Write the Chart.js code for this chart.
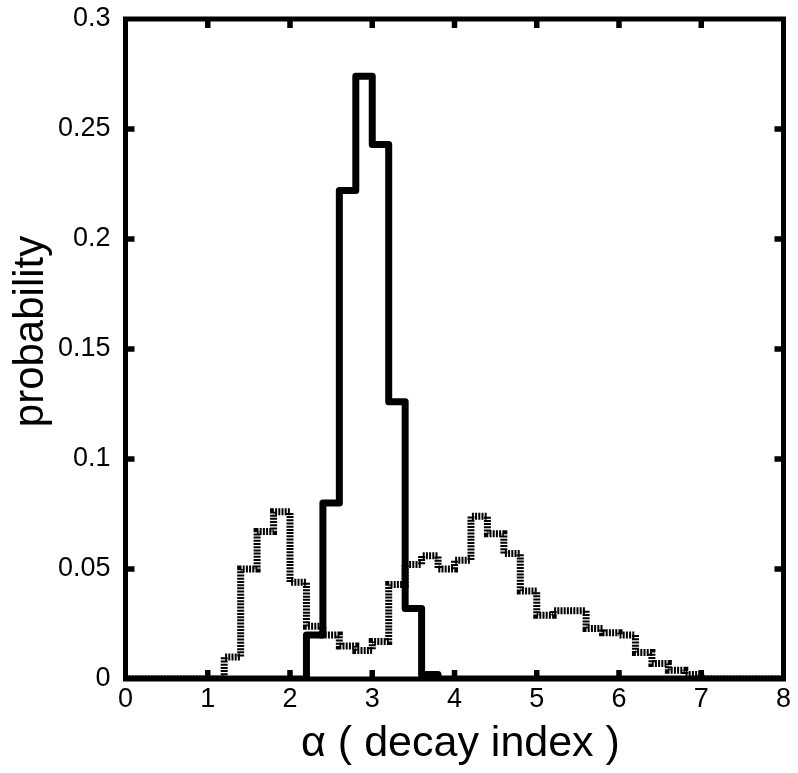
<!DOCTYPE html>
<html>
<head>
<meta charset="utf-8">
<script src="https://cdn.jsdelivr.net/npm/chart.js@4.4.1/dist/chart.umd.min.js"></script>
<style>
  html, body { margin: 0; padding: 0; background: #ffffff; }
  #wrap { width: 798px; height: 773px; }
</style>
</head>
<body>
<div id="wrap"><canvas id="myChart" width="798" height="773"></canvas></div>
<script>
// bin left edges and heights (step histograms, bin width 0.2)
const solidEdges = [0, 2.2, 2.4, 2.6, 2.8, 3.0, 3.2, 3.4, 3.6, 3.8, 8];
const solidValues = [0, 0.02, 0.08, 0.222, 0.274, 0.243, 0.126, 0.032, 0.002, 0, 0];

const dashedEdges = [0, 1.2, 1.4, 1.6, 1.8, 2.0, 2.2, 2.4, 2.6, 2.8, 3.0,
    3.2, 3.4, 3.6, 3.8, 4.0, 4.2, 4.4, 4.6, 4.8, 5.0,
    5.2, 5.4, 5.6, 5.8, 6.0, 6.2, 6.4, 6.6, 6.8, 7.0, 8];
const dashedValues = [0, 0.01, 0.05, 0.067, 0.076, 0.044, 0.024, 0.02, 0.015, 0.013, 0.017,
    0.043, 0.052, 0.056, 0.05, 0.054, 0.074, 0.066, 0.057, 0.04, 0.029,
    0.031, 0.031, 0.023, 0.021, 0.02, 0.012, 0.007, 0.004, 0.002, 0, 0];

const xTicks = [0, 1, 2, 3, 4, 5, 6, 7, 8];
const yTicks = [0, 0.05, 0.1, 0.15, 0.2, 0.25, 0.3];

const FONT = "'Liberation Sans', Arial, Helvetica, sans-serif";

function toPoints(edges, values) {
    return edges.map((e, i) => ({ x: e, y: values[i] }));
}

// box around the plot with short inward ticks on all four sides
const framePlugin = {
    id: "frame",
    afterDatasetsDraw(chart) {
        const { ctx, chartArea: a, scales } = chart;
        const x = scales.x;
        const y = scales.y;
        const len = 9;
        ctx.save();
        ctx.strokeStyle = "#000";
        ctx.lineWidth = 5;
        ctx.lineCap = "butt";
        ctx.strokeRect(a.left, a.top, a.right - a.left, a.bottom - a.top);
        ctx.beginPath();
        xTicks.forEach(v => {
            if (v <= x.min || v >= x.max) return;
            const px = x.getPixelForValue(v);
            ctx.moveTo(px, a.bottom);
            ctx.lineTo(px, a.bottom - len);
            ctx.moveTo(px, a.top);
            ctx.lineTo(px, a.top + len);
        });
        yTicks.forEach(v => {
            if (v <= y.min || v >= y.max) return;
            const py = y.getPixelForValue(v);
            ctx.moveTo(a.left, py);
            ctx.lineTo(a.left + len, py);
            ctx.moveTo(a.right, py);
            ctx.lineTo(a.right - len, py);
        });
        ctx.lineWidth = 5.5;
        ctx.stroke();
        ctx.restore();
    }
};

const ctx = document.getElementById("myChart");
const chart = new Chart(ctx, {
    type: "line",
    data: {
        datasets: [
            {
                label: "solid",
                data: toPoints(solidEdges, solidValues),
                stepped: "before",
                borderColor: "#000000",
                borderWidth: 7,
                borderJoinStyle: "round",
                pointRadius: 0,
                fill: false
            },
            {
                label: "dashed",
                data: toPoints(dashedEdges, dashedValues),
                stepped: "before",
                borderColor: "#000000",
                borderWidth: 7,
                borderDash: [2, 1.2],
                borderCapStyle: "butt",
                pointRadius: 0,
                fill: false
            }
        ]
    },
    options: {
        responsive: false,
        animation: false,
        devicePixelRatio: 1,
        layout: {
            padding: { top: 19, right: 14.5, left: 0, bottom: 0 }
        },
        plugins: {
            legend: { display: false },
            tooltip: { enabled: false }
        },
        scales: {
            x: {
                type: "linear",
                min: 0,
                max: 8,
                afterBuildTicks: (scale) => { scale.ticks = xTicks.map(v => ({ value: v })); },
                afterFit: (scale) => {
                    scale.height = 94;
                    scale.paddingLeft = 0;
                    scale.paddingRight = 0;
                },
                grid: { display: false, drawTicks: false },
                border: { display: false },
                ticks: {
                    color: "#000",
                    padding: 4,
                    font: { family: FONT, size: 27 },
                    maxRotation: 0
                },
                title: {
                    display: true,
                    text: " α ( decay index )",
                    color: "#000",
                    font: { family: FONT, size: 43 },
                    padding: { top: 0, bottom: 3 }
                }
            },
            y: {
                min: 0,
                max: 0.3,
                afterBuildTicks: (scale) => { scale.ticks = yTicks.map(v => ({ value: v })); },
                afterFit: (scale) => {
                    scale.width = 125.5;
                    scale.paddingTop = 0;
                    scale.paddingBottom = 0;
                },
                grid: { display: false, drawTicks: false },
                border: { display: false },
                ticks: {
                    color: "#000",
                    padding: 15,
                    font: { family: FONT, size: 27 },
                    callback: (v) => String(Number(v.toFixed(2)))
                },
                title: {
                    display: true,
                    text: "   probability",
                    color: "#000",
                    font: { family: FONT, size: 42 },
                    padding: { top: 6, bottom: 0 }
                }
            }
        }
    },
    plugins: [framePlugin]
});
</script>
</body>
</html>
